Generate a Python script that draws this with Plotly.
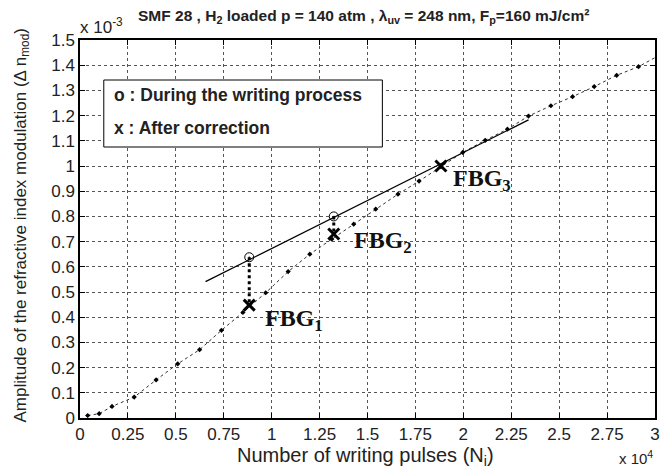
import plotly.graph_objects as go

# data (x in units of 1e4 pulses, y in units of 1e-3)
series_x = [0.04, 0.10, 0.167, 0.283, 0.397, 0.51, 0.624, 0.738, 0.85, 0.969, 1.086, 1.199, 1.314,
            1.428, 1.543, 1.659, 1.769, 1.883, 1.997, 2.114, 2.23, 2.34, 2.457, 2.57, 2.683, 2.80, 2.914, 3.0]
series_y = [0.01, 0.017, 0.046, 0.083, 0.151, 0.215, 0.271, 0.348, 0.419, 0.497, 0.581, 0.65, 0.71,
            0.769, 0.829, 0.888, 0.94, 0.997, 1.054, 1.102, 1.146, 1.198, 1.239, 1.275, 1.315, 1.36, 1.394, 1.43]
marker_mask = [True] * 27 + [False]

fbg_x = [0.883, 1.324, 1.883]
fbg_during = [0.638, 0.80, 1.0]
fbg_after = [0.448, 0.73, 1.0]
fbg_names = ["FBG<sub>1</sub>", "FBG<sub>2</sub>", "FBG<sub>3</sub>"]
fbg_label_x = [0.955, 1.42, 1.935]
fbg_label_y = [0.389, 0.697, 0.943]

fit_x = [0.655, 2.34]
fit_y = [0.541, 1.183]

x_ticks = [0, 0.25, 0.5, 0.75, 1, 1.25, 1.5, 1.75, 2, 2.25, 2.5, 2.75, 3]
x_tick_text = ["0", "0.25", "0.5", "0.75", "1", "1.25", "1.5", "1.75", "2", "2.25", "2.5", "2.75", "3"]
y_ticks = [round(0.1 * i, 1) for i in range(16)]
y_tick_text = ["0", "0.1", "0.2", "0.3", "0.4", "0.5", "0.6", "0.7", "0.8", "0.9", "1", "1.1", "1.2", "1.3", "1.4", "1.5"]

# plot area in pixels (for paper-coordinate helpers)
L, R, T, B = 80, 660, 40, 418
def px(x):
    return (x - L) / (R - L)
def py(y):
    return (B - y) / (B - T)

fig = go.Figure()

fig.add_trace(go.Scatter(x=series_x, y=series_y, mode="lines",
                         line=dict(color="#333", width=1, dash="dot"), hoverinfo="skip"))
fig.add_trace(go.Scatter(x=[x for x, m in zip(series_x, marker_mask) if m],
                         y=[y for y, m in zip(series_y, marker_mask) if m], mode="markers",
                         marker=dict(color="black", size=4, symbol="diamond")))
fig.add_trace(go.Scatter(x=fit_x, y=fit_y, mode="lines", line=dict(color="black", width=1.3)))
for x, y1, y2 in zip(fbg_x, fbg_during, fbg_after):
    fig.add_trace(go.Scatter(x=[x, x], y=[y1, y2], mode="lines",
                             line=dict(color="black", width=3, dash="dot")))
fig.add_trace(go.Scatter(x=fbg_x[:2], y=fbg_during[:2], mode="markers",
                         marker=dict(symbol="circle-dot", size=9, color="rgba(0,0,0,0)",
                                     line=dict(color="black", width=1))))
fig.add_trace(go.Scatter(x=fbg_x, y=fbg_after, mode="markers",
                         marker=dict(symbol="x-thin", size=11, line=dict(color="black", width=3))))

for x, y, name in zip(fbg_label_x, fbg_label_y, fbg_names):
    fig.add_annotation(x=x, y=y, text="<b>" + name + "</b>", showarrow=False,
                       xanchor="left", yanchor="middle",
                       font=dict(family="Liberation Serif", size=24, color="#111"))

axis_common = dict(showline=True, linecolor="black", linewidth=1.5, mirror="ticks", ticks="inside",
                   ticklen=5, tickcolor="black", showgrid=True, gridcolor="#555", griddash="dot",
                   gridwidth=1, zeroline=False, tickfont=dict(size=17, color="#222"))

fig.update_layout(
    width=668, height=471,
    margin=dict(l=L, r=668 - R, t=T, b=471 - B),
    paper_bgcolor="white", plot_bgcolor="white",
    showlegend=False,
    font=dict(family="Liberation Sans", color="black"),
    xaxis=dict(range=[0, 3], tickvals=x_ticks, ticktext=x_tick_text, **axis_common),
    yaxis=dict(range=[0, 1.5], tickvals=y_ticks, ticktext=y_tick_text, **axis_common),
)

# axis titles
fig.add_annotation(xref="paper", yref="paper", x=px(368), y=py(456), showarrow=False,
                   text="Number of writing pulses (N<sub>i</sub>)", font=dict(size=20, color="#222"),
                   xanchor="center", yanchor="middle")
fig.add_annotation(xref="paper", yref="paper", x=px(21), y=py(225), showarrow=False, textangle=-90,
                   text="Amplitude of the refractive index modulation (Δ n<sub>mod</sub>)",
                   font=dict(size=17, color="#222"), xanchor="center", yanchor="middle")

# title & exponent labels
fig.add_annotation(xref="paper", yref="paper", x=px(366), y=py(16), showarrow=False,
                   text="<b>SMF 28 , H<sub>2</sub> loaded p = 140 atm , λ<sub>uv</sub> = 248 nm, F<sub>p</sub>=160 mJ/cm²</b>",
                   font=dict(size=15.5, color="#222"), xanchor="center", yanchor="middle")
fig.add_annotation(xref="paper", yref="paper", x=px(78), y=py(26), showarrow=False,
                   text="x 10<sup>-3</sup>", font=dict(size=17, color="#222"), xanchor="left", yanchor="middle")
fig.add_annotation(xref="paper", yref="paper", x=px(660), y=py(457), showarrow=False,
                   text="x 10<sup>4</sup>", font=dict(size=15, color="#222"), xanchor="right", yanchor="middle")

# legend box
fig.add_shape(type="rect", xref="paper", yref="paper",
              x0=px(104), x1=px(385), y0=py(147), y1=py(80),
              line=dict(color="black", width=1), fillcolor="white", layer="above")
fig.add_annotation(xref="paper", yref="paper", x=px(112), y=py(95), showarrow=False,
                   text="<b>o : During the writing process</b>", font=dict(size=17.5, color="#222"),
                   xanchor="left", yanchor="middle")
fig.add_annotation(xref="paper", yref="paper", x=px(112), y=py(128), showarrow=False,
                   text="<b>x : After correction</b>", font=dict(size=17.5, color="#222"),
                   xanchor="left", yanchor="middle")

fig.write_html("out.html")
